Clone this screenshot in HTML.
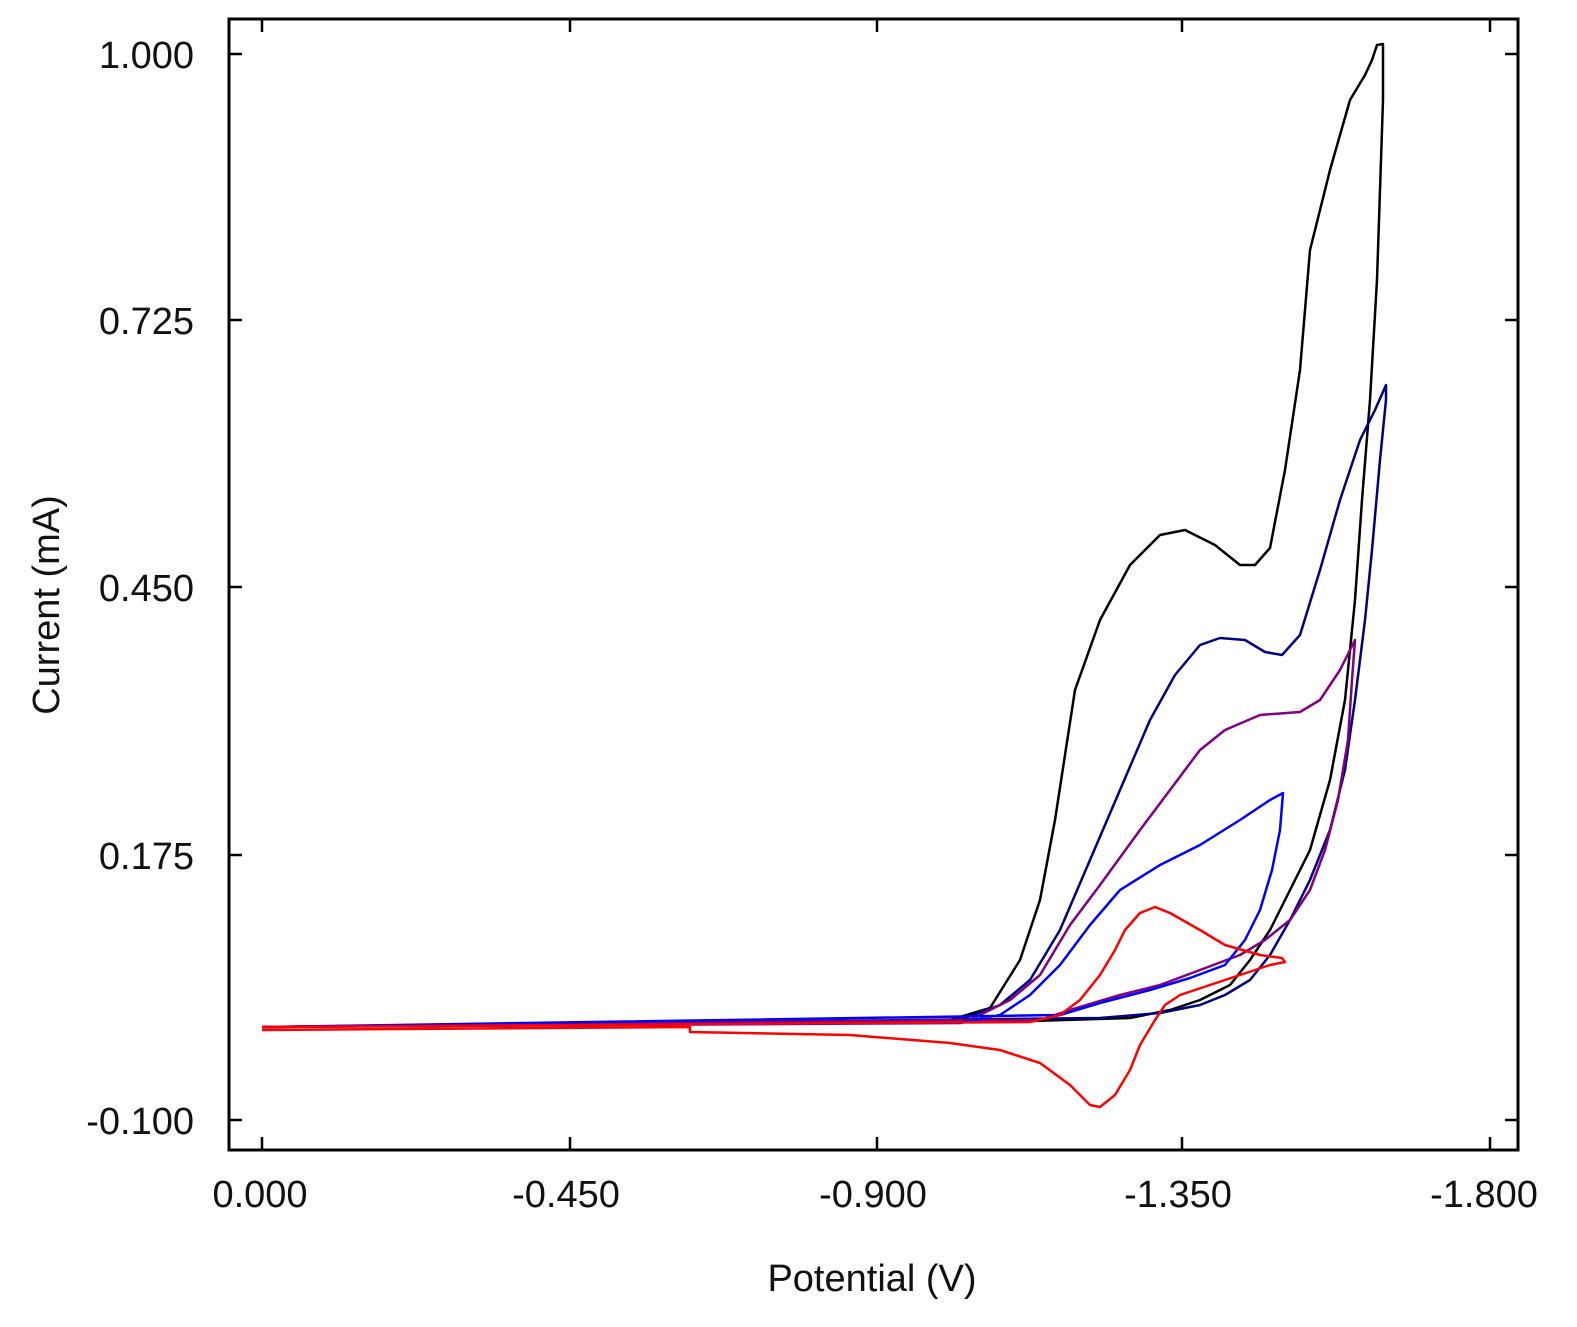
<!DOCTYPE html>
<html><head><meta charset="utf-8"><style>
html,body{margin:0;padding:0;background:#fff}
svg{display:block}
text{font-family:"Liberation Sans",sans-serif;fill:#111}
</style></head><body>
<svg width="1577" height="1327" viewBox="0 0 1577 1327" xmlns="http://www.w3.org/2000/svg">
<rect x="229" y="19" width="1289" height="1131" fill="none" stroke="#000" stroke-width="3"/>
<g stroke="#000" stroke-width="2.5">
<line x1="262" y1="1150" x2="262" y2="1137"/><line x1="570" y1="1150" x2="570" y2="1137"/><line x1="877" y1="1150" x2="877" y2="1137"/><line x1="1182" y1="1150" x2="1182" y2="1137"/><line x1="1490" y1="1150" x2="1490" y2="1137"/>
<line x1="262" y1="19" x2="262" y2="32"/><line x1="570" y1="19" x2="570" y2="32"/><line x1="877" y1="19" x2="877" y2="32"/><line x1="1182" y1="19" x2="1182" y2="32"/><line x1="1490" y1="19" x2="1490" y2="32"/>
<line x1="229" y1="54" x2="242" y2="54"/><line x1="229" y1="320" x2="242" y2="320"/><line x1="229" y1="587" x2="242" y2="587"/><line x1="229" y1="855" x2="242" y2="855"/><line x1="229" y1="1120" x2="242" y2="1120"/>
<line x1="1518" y1="54" x2="1505" y2="54"/><line x1="1518" y1="320" x2="1505" y2="320"/><line x1="1518" y1="587" x2="1505" y2="587"/><line x1="1518" y1="855" x2="1505" y2="855"/><line x1="1518" y1="1120" x2="1505" y2="1120"/>
</g>
<g font-size="38" text-anchor="end">
<text x="194" y="68">1.000</text><text x="194" y="334">0.725</text><text x="194" y="601">0.450</text><text x="194" y="869">0.175</text><text x="194" y="1134">-0.100</text>
</g>
<g font-size="38" text-anchor="middle">
<text x="260" y="1207">0.000</text><text x="566" y="1207">-0.450</text><text x="873" y="1207">-0.900</text><text x="1178" y="1207">-1.350</text><text x="1484" y="1207">-1.800</text>
</g>
<text x="872" y="1291" font-size="38" text-anchor="middle">Potential (V)</text>
<text transform="translate(59,605) rotate(-90)" font-size="38" text-anchor="middle">Current (mA)</text>
<g fill="none" stroke-width="2.5" stroke-linejoin="round">
<path stroke="#000" d="M262,1027 L950,1020 990,1008 1020,960 1040,900 1055,820 1075,690 1100,620 1130,565 1160,535 1185,530 1215,545 1240,565 1255,565 1270,548 1285,470 1300,370 1310,250 1330,170 1350,100 1365,75 1372,60 1377,45 1383,44 1383,100 1377,280 1370,400 1362,500 1355,600 1345,700 1330,780 1310,850 1290,890 1270,930 1250,960 1230,985 1200,1000 1170,1010 1130,1018 1000,1022 262,1027"/>
<path stroke="#000080" d="M262,1027 L960,1020 1000,1005 1030,980 1060,930 1090,860 1120,790 1150,720 1175,675 1200,645 1220,638 1245,640 1265,652 1282,655 1300,635 1320,570 1340,500 1360,440 1375,410 1386,385 1386,400 1380,460 1372,550 1365,620 1355,700 1345,770 1330,830 1310,880 1290,920 1270,955 1250,980 1225,995 1200,1005 1160,1013 1100,1018 262,1027"/>
<path stroke="#800080" d="M262,1027 L970,1020 1010,1000 1040,975 1070,925 1100,885 1140,830 1170,790 1200,750 1225,730 1260,715 1300,712 1320,700 1340,670 1355,640 1352,680 1348,740 1338,800 1325,850 1310,890 1290,920 1265,940 1240,955 1200,970 1160,985 1120,995 1070,1010 1040,1020 262,1027"/>
<path stroke="#0000ff" d="M262,1027 L960,1023 1000,1015 1030,995 1060,965 1090,925 1120,890 1160,865 1200,845 1240,820 1270,800 1283,793 1280,830 1272,870 1260,910 1245,940 1225,965 1190,978 1150,990 1100,1003 1060,1015 262,1027"/>
<path stroke="#ff0000" d="M262,1027 L1030,1022 1060,1015 1080,1000 1100,975 1115,950 1125,930 1140,913 1155,907 1170,913 1200,930 1225,945 1260,955 1282,958 1285,962 1270,965 1240,975 1210,985 1180,995 1165,1005 1155,1020 1140,1045 1130,1070 1115,1095 1100,1107 1090,1105 1070,1085 1040,1063 1000,1050 950,1043 850,1035 690,1032 690,1027 262,1030"/>
</g>
</svg>
</body></html>
